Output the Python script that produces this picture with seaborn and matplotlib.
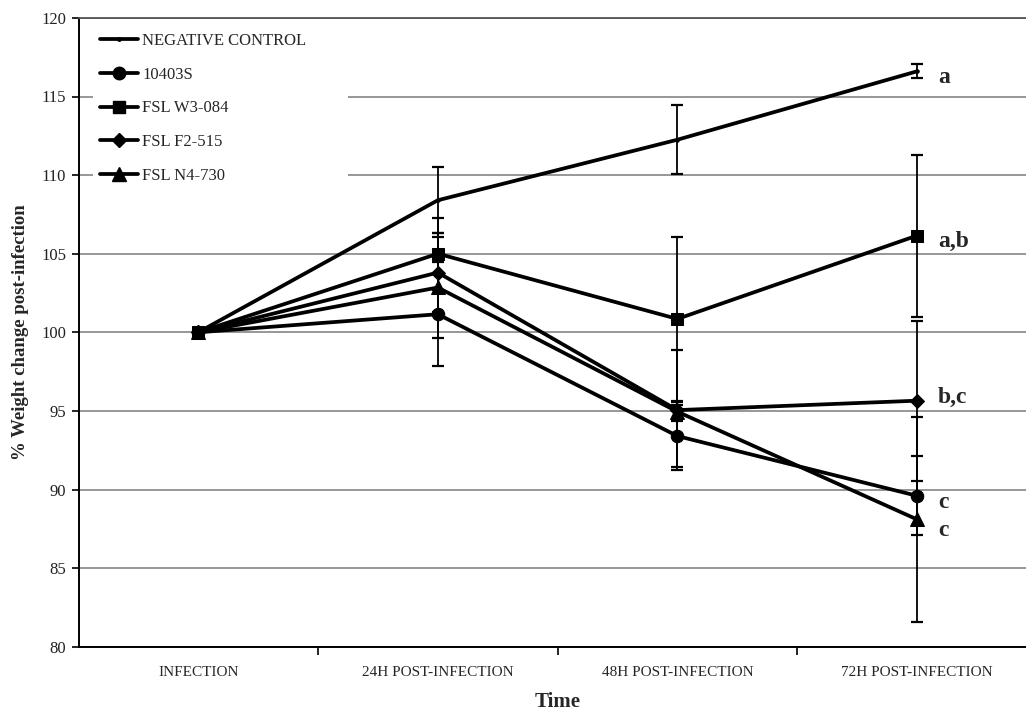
import numpy as np
import pandas as pd
import matplotlib
matplotlib.use("Agg")
import matplotlib.pyplot as plt
from matplotlib.lines import Line2D
import seaborn as sns

# ---- data -------------------------------------------------------------
time_labels = ["INFECTION", "24H POST-INFECTION", "48H POST-INFECTION", "72H POST-INFECTION"]
series_names = ["NEGATIVE CONTROL", "10403S", "FSL W3-084", "FSL F2-515", "FSL N4-730"]

neg_control = [100.0, 108.4, 112.25, 116.6]
strain_10403s = [100.0, 101.15, 93.4, 89.6]
fsl_w3_084 = [100.0, 105.0, 100.85, 106.15]
fsl_f2_515 = [100.0, 103.8, 95.05, 95.65]
fsl_n4_730 = [100.0, 102.85, 94.95, 88.1]

neg_control_err = [0.0, 2.1, 2.2, 0.45]
strain_10403s_err = [0.0, 3.3, 2.0, 2.5]
fsl_w3_084_err = [0.0, 2.3, 5.2, 5.15]
fsl_f2_515_err = [0.0, 2.5, 3.8, 5.1]
fsl_n4_730_err = [0.0, 3.2, 0.6, 6.5]

# significance groups at 72 h
group_letters = ["a", "c", "a,b", "b,c", "c"]

means = [neg_control, strain_10403s, fsl_w3_084, fsl_f2_515, fsl_n4_730]
errors = [neg_control_err, strain_10403s_err, fsl_w3_084_err, fsl_f2_515_err, fsl_n4_730_err]

rows = []
for name, m, e in zip(series_names, means, errors):
    for i, (v, s) in enumerate(zip(m, e)):
        rows.append({"series": name, "t": i, "value": v, "err": s})
df = pd.DataFrame(rows)

# ---- style ------------------------------------------------------------
sns.set_style("white")
plt.rcParams["font.family"] = ["Liberation Serif", "DejaVu Serif"]

marker_map = {"NEGATIVE CONTROL": "o", "10403S": "o", "FSL W3-084": "s",
              "FSL F2-515": "D", "FSL N4-730": "^"}
size_map = {"NEGATIVE CONTROL": 2.5, "10403S": 9, "FSL W3-084": 9,
            "FSL F2-515": 7.5, "FSL N4-730": 10}
palette = {n: "black" for n in series_names}

W, H = 1026, 713
fig = plt.figure(figsize=(W / 100, H / 100), dpi=100)
ax_left, ax_right = 78.5, 1036.7
ax_top, ax_bottom = 17.9, 646.7
ax = fig.add_axes([ax_left / W, (H - ax_bottom) / H,
                   (ax_right - ax_left) / W, (ax_bottom - ax_top) / H])

# grid lines first
ax.set_axisbelow(True)
ax.yaxis.grid(True, color="#7a7a7a", linewidth=1.1)

# error bars
for name in series_names:
    d = df[df["series"] == name]
    ax.errorbar(d["t"], d["value"], yerr=d["err"], fmt="none", ecolor="black",
                elinewidth=1.3, capsize=4, capthick=1.6, zorder=3)

sns.lineplot(data=df, x="t", y="value", hue="series", style="series",
             hue_order=series_names, style_order=series_names,
             markers=marker_map, dashes=False, palette=palette,
             linewidth=2.7, markersize=9, markeredgecolor="black",
             sort=False, errorbar=None, legend=False, ax=ax, zorder=4)

for line, name in zip(ax.get_lines()[-len(series_names):], series_names):
    line.set_markersize(size_map[name])

# axes ranges and ticks
ax.set_xlim(-0.5, len(time_labels) - 0.5)
ax.set_ylim(80, 120)
ax.set_yticks(np.arange(80, 121, 5))
ax.tick_params(axis="y", which="major", left=True, length=5, width=1.2,
               color="black", labelsize=12, pad=4, labelcolor="#222222")
ax.set_xticks(np.arange(0.5, len(time_labels) - 0.5, 1.0))
ax.set_xticklabels([])
ax.tick_params(axis="x", which="major", bottom=True, length=6, width=1.2, color="black")
ax.set_xticks(np.arange(len(time_labels)), minor=True)
ax.set_xticklabels(time_labels, minor=True)
ax.tick_params(axis="x", which="minor", length=0, labelsize=11, pad=14)

for side in ["left", "bottom"]:
    ax.spines[side].set_color("black")
    ax.spines[side].set_linewidth(1.4)
ax.spines["top"].set_color("#555555")
ax.spines["top"].set_linewidth(1.3)
ax.spines["right"].set_visible(False)

ax.set_xlabel("Time", fontsize=15, fontweight="bold")
ax.set_ylabel("% Weight change post-infection", fontsize=13.5, fontweight="bold")
ax.xaxis.set_label_coords(0.5, -0.088)
ax.yaxis.set_label_coords(-0.061, 0.5)
ax.xaxis.label.set_va("center")
ax.yaxis.label.set_va("center")

# significance letters beside the 72 h points
letter_offsets = [12, 12, 11, 2, 17]  # downward offset in px
for idx, name in enumerate(series_names):
    ax.annotate(group_letters[idx], xy=(3, means[idx][3]),
                xytext=(15, -letter_offsets[idx] * 0.72), textcoords="offset points",
                fontsize=17, fontweight="bold", va="baseline", ha="left")

# legend
handles = [Line2D([0], [0], color="black", linewidth=2.7, marker=marker_map[n],
                  markersize=size_map[n], markeredgecolor="black") for n in series_names]
leg = ax.legend(handles, series_names, loc="upper left",
                bbox_to_anchor=(93 / W, (H - 26.5) / H, 255 / W, 0.0),
                bbox_transform=fig.transFigure, mode="expand",
                borderaxespad=0, borderpad=0.4, fontsize=12, handlelength=2.3,
                handletextpad=0.25, labelspacing=1.06, frameon=True, fancybox=False)
leg.get_frame().set_facecolor("white")
leg.get_frame().set_edgecolor("none")
leg.get_frame().set_alpha(1.0)

fig.savefig("out.png", dpi=100)
